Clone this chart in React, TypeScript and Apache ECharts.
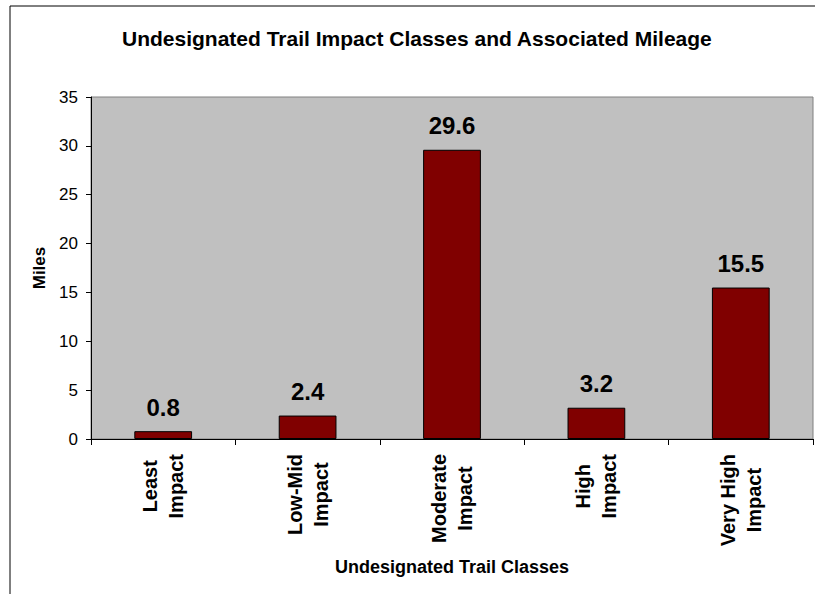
import React, { useEffect, useRef } from "react";
import * as echarts from "echarts";

const title = "Undesignated Trail Impact Classes and Associated Mileage";
const categories = ["Least\nImpact", "Low-Mid\nImpact", "Moderate\nImpact", "High\nImpact", "Very High\nImpact"];
const miles = [0.8, 2.4, 29.6, 3.2, 15.5];
const xAxisName = "Undesignated Trail Classes";
const yAxisName = "Miles";
const yMin = 0;
const yMax = 35;
const yInterval = 5;

const FONT = "Liberation Sans, Arial, sans-serif";

export default function App() {
  const ref = useRef<HTMLDivElement>(null);
  useEffect(() => {
    if (!ref.current) return;
    const chart = echarts.init(ref.current, null, { renderer: "svg" });
    chart.setOption({
      animation: false,
      backgroundColor: "#ffffff",
      textStyle: { fontFamily: FONT },
      title: {
        text: title,
        left: 117,
        top: 23,
        textStyle: { fontFamily: FONT, fontSize: 21, fontWeight: "bold", color: "#000" },
      },
      graphic: [
        {
          type: "rect",
          shape: { x: 10, y: 6, width: 1000, height: 1000 },
          style: { fill: "none", stroke: "#000", lineWidth: 1 },
          silent: true,
        },
      ],
      grid: {
        left: 91,
        right: 2,
        top: 97,
        bottom: 155,
        show: true,
        backgroundColor: "#C0C0C0",
        borderColor: "#808080",
        borderWidth: 1,
      },
      xAxis: {
        type: "category",
        data: categories,
        name: xAxisName,
        nameLocation: "middle",
        nameGap: 119,
        nameTextStyle: { fontFamily: FONT, fontSize: 18, fontWeight: "bold", color: "#000" },
        axisLine: { show: true, lineStyle: { color: "#000", width: 1 } },
        axisTick: { show: true, length: 6, alignWithLabel: false, lineStyle: { color: "#000" } },
        axisLabel: {
          rotate: 90,
          margin: 15,
          interval: 0,
          fontFamily: FONT,
          fontSize: 20,
          fontWeight: "bold",
          color: "#000",
          lineHeight: 26,
          formatter: (v: string) => v.split("\n").map((s) => `{c|${s}}`).join("\n"),
          rich: {
            c: {
              fontFamily: FONT,
              fontSize: 20,
              fontWeight: "bold",
              color: "#000",
              align: "center",
              lineHeight: 26,
            },
          },
        },
        splitLine: { show: false },
      },
      yAxis: {
        type: "value",
        min: yMin,
        max: yMax,
        interval: yInterval,
        name: yAxisName,
        nameLocation: "middle",
        nameRotate: 90,
        nameGap: 43,
        nameTextStyle: { fontFamily: FONT, fontSize: 17, fontWeight: "bold", color: "#000" },
        axisLine: { show: true, lineStyle: { color: "#000", width: 1 } },
        axisTick: { show: true, length: 5, lineStyle: { color: "#000" } },
        axisLabel: { margin: 13, fontFamily: FONT, fontSize: 17, color: "#000" },
        splitLine: { show: false },
      },
      series: [
        {
          type: "bar",
          data: miles,
          barWidth: "40%",
          itemStyle: { color: "#800000", borderColor: "#000", borderWidth: 1 },
          label: {
            show: true,
            position: "top",
            distance: 12,
            fontFamily: FONT,
            fontSize: 24,
            fontWeight: "bold",
            color: "#000",
            formatter: (p: any) => String(p.value),
          },
        },
      ],
    });
    return () => chart.dispose();
  }, []);
  return (
    <div
      ref={ref}
      style={{ position: "fixed", left: 0, top: 0, width: 815, height: 594 }}
    />
  );
}
